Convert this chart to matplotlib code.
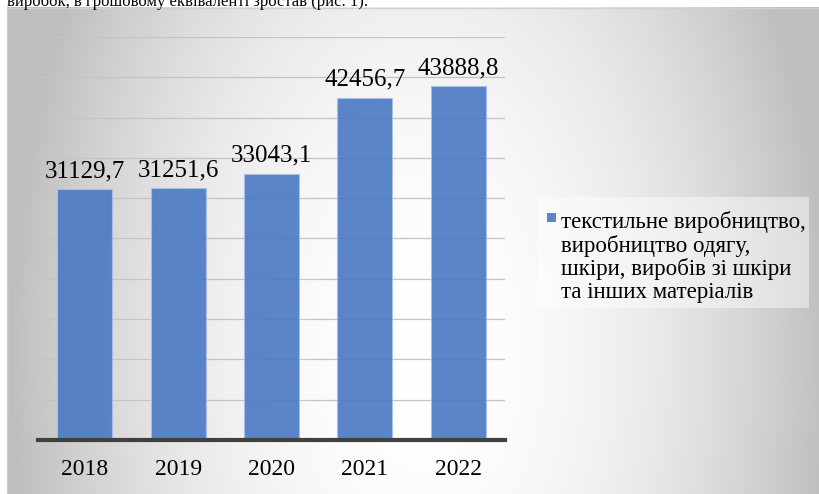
import numpy as np
import matplotlib.pyplot as plt
from matplotlib.patches import Rectangle

plt.rcParams['font.family'] = ['Liberation Serif', 'DejaVu Serif']

years = ['2018', '2019', '2020', '2021', '2022']
values = [31129.7, 31251.6, 33043.1, 42456.7, 43888.8]
value_labels = ['31129,7', '31251,6', '33043,1', '42456,7', '43888,8']
series_name = ('текстильне виробництво,\nвиробництво одягу,\n'
               'шкіри, виробів зі шкіри\nта інших матеріалів')

W, H = 819, 494
fig = plt.figure(figsize=(W / 100, H / 100), dpi=100)
fig.patch.set_facecolor('white')

# gray-to-white radial shading of the chart area (pixel coordinates)
bg = fig.add_axes([0, 0, 1, 1], zorder=-10)
yy, xx = np.mgrid[0:H, 0:W]
r2 = ((xx - 420) / 410.0) ** 2 + ((yy - 350) / 700.0) ** 2
shade = 255 - 65 * np.clip(r2, 0, 1)
shade[:8, :] = 255
shade[:, :7] = 255
img = np.dstack([shade, shade, shade]).astype(np.uint8)
bg.imshow(img, extent=(0, W, H, 0), aspect='auto', interpolation='bilinear')
bg.add_patch(Rectangle((7, 8), W, H, fill=False, ec='#d0d0d0', lw=1))
bg.set_xlim(0, W)
bg.set_ylim(H, 0)
bg.axis('off')

# cut-off sentence above the chart
fig.text(7 / W, 1 - 6 / H, 'виробок, в грошовому еквіваленті зростав (рис. 1).',
         fontsize=12, va='baseline', ha='left')

ax = fig.add_axes([38 / W, 1 - 440 / H, (505 - 38) / W, (440 - 37) / H])
ax.set_facecolor('none')
x = np.arange(len(years))
bars = ax.bar(x, values, width=0.59, color='#4a78c4', alpha=0.9,
              edgecolor='#a9c0ec', linewidth=0.8, zorder=2)

for xi, v, lab in zip(x, values, value_labels):
    ax.annotate(lab, (xi, v), xytext=(0, 5), textcoords='offset points',
                ha='center', va='bottom', fontsize=18)

ax.set_xlim(-0.5, len(years) - 0.5)
ax.set_ylim(0, 50000)
ax.set_yticks(np.arange(0, 50001, 5000))
ax.yaxis.grid(True, color='#c4c4c4', lw=0.9, zorder=0)
ax.set_axisbelow(True)
ax.tick_params(axis='y', left=False, labelleft=False)
ax.set_xticks(x)
ax.set_xticklabels(years, fontsize=17)
ax.tick_params(axis='x', length=0, pad=14)
for side in ['top', 'right', 'left']:
    ax.spines[side].set_visible(False)
ax.spines['bottom'].set_color('#404040')
ax.spines['bottom'].set_linewidth(3)
ax.spines['bottom'].set_zorder(3)

# legend: light box, square key next to the first line of the label
bg.add_patch(Rectangle((538, 197), 271, 111, fc='white', alpha=0.45, ec='none'))
bg.add_patch(Rectangle((547, 213), 9, 9, fc=bars.patches[0].get_facecolor(),
                       ec='none'))
bg.text(561, 211, series_name, fontsize=16.5, va='top', ha='left',
        linespacing=1.1)

fig.savefig('out.png', dpi=100)
